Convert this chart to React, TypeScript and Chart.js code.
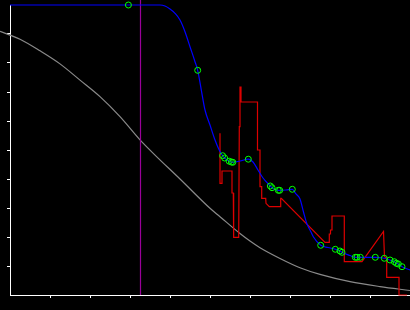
import React, { useEffect, useRef } from "react";
import { Chart, registerables } from "chart.js";

Chart.register(...registerables);

// Axis ticks (no labels drawn)
const xTicks = [1, 2, 3, 4, 5, 6, 7, 8, 9];
const yTicks = [0.1, 0.2, 0.3, 0.4, 0.5, 0.6, 0.7, 0.8, 0.9];

// Grey reference curve
const greyX = [-0.25, 0.25, 0.75, 1.25, 1.75, 2.25, 2.75, 3.25, 3.6, 4.25, 5.0, 5.25, 5.75, 6.0, 6.25, 6.75, 7.25, 7.75, 8.5, 9.25, 10.0];
const greyY = [0.909, 0.882, 0.842, 0.797, 0.741, 0.684, 0.615, 0.535, 0.486, 0.4, 0.299, 0.27, 0.212, 0.186, 0.163, 0.126, 0.094, 0.071, 0.046, 0.029, 0.0155];

// Blue smooth curve
const blueX = [0, 2.96, 3.75, 3.875, 4.0, 4.125, 4.25, 4.375, 4.5, 4.625, 4.6925, 4.775, 4.875, 5.0, 5.125, 5.23, 5.315, 5.365, 5.48, 5.535, 5.57, 5.75, 5.9575, 6.075, 6.2, 6.325, 6.5075, 6.55, 6.7075, 6.7425, 6.9, 7.0575, 7.15, 7.25, 7.3375, 7.4175, 7.5, 7.5825, 7.7675, 7.95, 8.1325, 8.25, 8.3, 8.5, 8.6325, 8.675, 8.7575, 9.1325, 9.3575, 9.5, 9.6075, 9.6575, 9.7075, 9.8, 10.0];
const blueY = [1.0, 1.0, 1.0, 0.9966, 0.9862, 0.9714, 0.9483, 0.9079, 0.8562, 0.8045, 0.7748, 0.7128, 0.6379, 0.5862, 0.5345, 0.5, 0.4803, 0.4724, 0.4614, 0.4586, 0.4576, 0.462, 0.4683, 0.4586, 0.431, 0.4034, 0.3759, 0.37, 0.361, 0.361, 0.3621, 0.3645, 0.3483, 0.331, 0.2862, 0.2472, 0.2241, 0.201, 0.1714, 0.1638, 0.1576, 0.1517, 0.1472, 0.1362, 0.13, 0.13, 0.13, 0.13, 0.1266, 0.1207, 0.1148, 0.1093, 0.1069, 0.0976, 0.0862];

// Green event markers on the blue curve
const markX = [2.96, 4.6925, 5.315, 5.365, 5.48, 5.535, 5.57, 5.9575, 6.5075, 6.55, 6.7075, 6.7425, 7.0575, 7.7675, 8.1325, 8.25, 8.3, 8.6325, 8.675, 8.7575, 9.1325, 9.3575, 9.5, 9.6075, 9.6575, 9.7075, 9.8];
const markY = [1.0, 0.7748, 0.4803, 0.4724, 0.4614, 0.4586, 0.4576, 0.4683, 0.3759, 0.37, 0.361, 0.361, 0.3645, 0.1714, 0.1576, 0.1517, 0.1472, 0.13, 0.13, 0.13, 0.13, 0.1266, 0.1207, 0.1148, 0.1093, 0.1069, 0.0976];

// Red step-like estimate
const redX = [5.25, 5.25, 5.3, 5.3, 5.55, 5.55, 5.5825, 5.5825, 5.6, 5.7175, 5.7325, 5.75, 5.75, 5.775, 5.775, 6.1875, 6.1875, 6.25, 6.25, 6.2925, 6.2925, 6.3925, 6.4, 6.4825, 6.7675, 6.7675, 6.7825, 7.875, 7.9825, 7.9825, 8.0125, 8.0125, 8.05, 8.05, 8.3575, 8.3575, 8.8, 9.3375, 9.3625, 9.4175, 9.4175, 9.725, 9.725, 9.925];
const redY = [0.5576, 0.3852, 0.3852, 0.4276, 0.4276, 0.3517, 0.3517, 0.2172, 0.199, 0.199, 0.5803, 0.5803, 0.7172, 0.7172, 0.6655, 0.6655, 0.5, 0.5, 0.3734, 0.3734, 0.3334, 0.3334, 0.3162, 0.3045, 0.3045, 0.3334, 0.3334, 0.1817, 0.1817, 0.2103, 0.2103, 0.2241, 0.2241, 0.2724, 0.2724, 0.1148, 0.1148, 0.219, 0.1321, 0.1276, 0.061, 0.061, 0.0, 0.0];

// Purple vertical marker
const purpleX = [3.2625, 3.2625];
const purpleY = [0, 1.02];

const pts = (xs: number[], ys: number[]) => xs.map((x, i) => ({ x, y: ys[i] }));

export default function App() {
  const ref = useRef<HTMLCanvasElement | null>(null);

  useEffect(() => {
    if (!ref.current) return;
    const chart = new Chart(ref.current, {
      type: "line",
      data: {
        datasets: [
          {
            label: "events",
            data: pts(markX, markY),
            showLine: false,
            pointRadius: 3,
            pointBorderWidth: 1,
            pointBorderColor: "#00ff00",
            pointBackgroundColor: "rgba(0,0,0,0)",
            clip: false,
          } as any,
          {
            label: "smooth",
            data: pts(blueX, blueY),
            borderColor: "#0000ff",
            borderWidth: 1.2,
            pointRadius: 0,
            cubicInterpolationMode: "monotone",
            clip: false,
          },
          {
            label: "estimate",
            data: pts(redX, redY),
            borderColor: "#dd0000",
            borderWidth: 1.2,
            pointRadius: 0,
            tension: 0,
            clip: false,
          },
          {
            label: "marker",
            data: pts(purpleX, purpleY),
            borderColor: "#990099",
            borderWidth: 1.2,
            pointRadius: 0,
            clip: false,
          },
          {
            label: "reference",
            data: pts(greyX, greyY),
            borderColor: "#8a8a8a",
            borderWidth: 1.2,
            pointRadius: 0,
            cubicInterpolationMode: "monotone",
            clip: false,
          },
        ],
      },
      options: {
        animation: false,
        responsive: false,
        devicePixelRatio: 1,
        layout: { autoPadding: false, padding: { left: 7, right: 0, top: 5, bottom: 12 } },
        plugins: { legend: { display: false }, tooltip: { enabled: false } },
        scales: {
          x: {
            type: "linear",
            min: 0,
            max: 10,
            afterBuildTicks: (s: any) => {
              s.ticks = xTicks.map((v) => ({ value: v }));
            },
            ticks: { display: false },
            grid: { drawOnChartArea: false, drawTicks: true, tickLength: 3, color: "#ffffff", tickColor: "#ffffff", lineWidth: 1 },
            border: { display: true, color: "#ffffff", width: 1 },
          },
          y: {
            type: "linear",
            min: 0,
            max: 1,
            afterBuildTicks: (s: any) => {
              s.ticks = yTicks.map((v) => ({ value: v }));
            },
            ticks: { display: false },
            grid: { drawOnChartArea: false, drawTicks: true, tickLength: 3, color: "#ffffff", tickColor: "#ffffff", lineWidth: 1 },
            border: { display: true, color: "#ffffff", width: 1 },
          },
        },
      } as any,
    });
    return () => chart.destroy();
  }, []);

  return (
    <div style={{ position: "absolute", left: 0, top: 0, width: 410, height: 310, background: "#000", overflow: "hidden" }}>
      <canvas ref={ref} width={410} height={310} style={{ display: "block", width: 410, height: 310 }} />
    </div>
  );
}
